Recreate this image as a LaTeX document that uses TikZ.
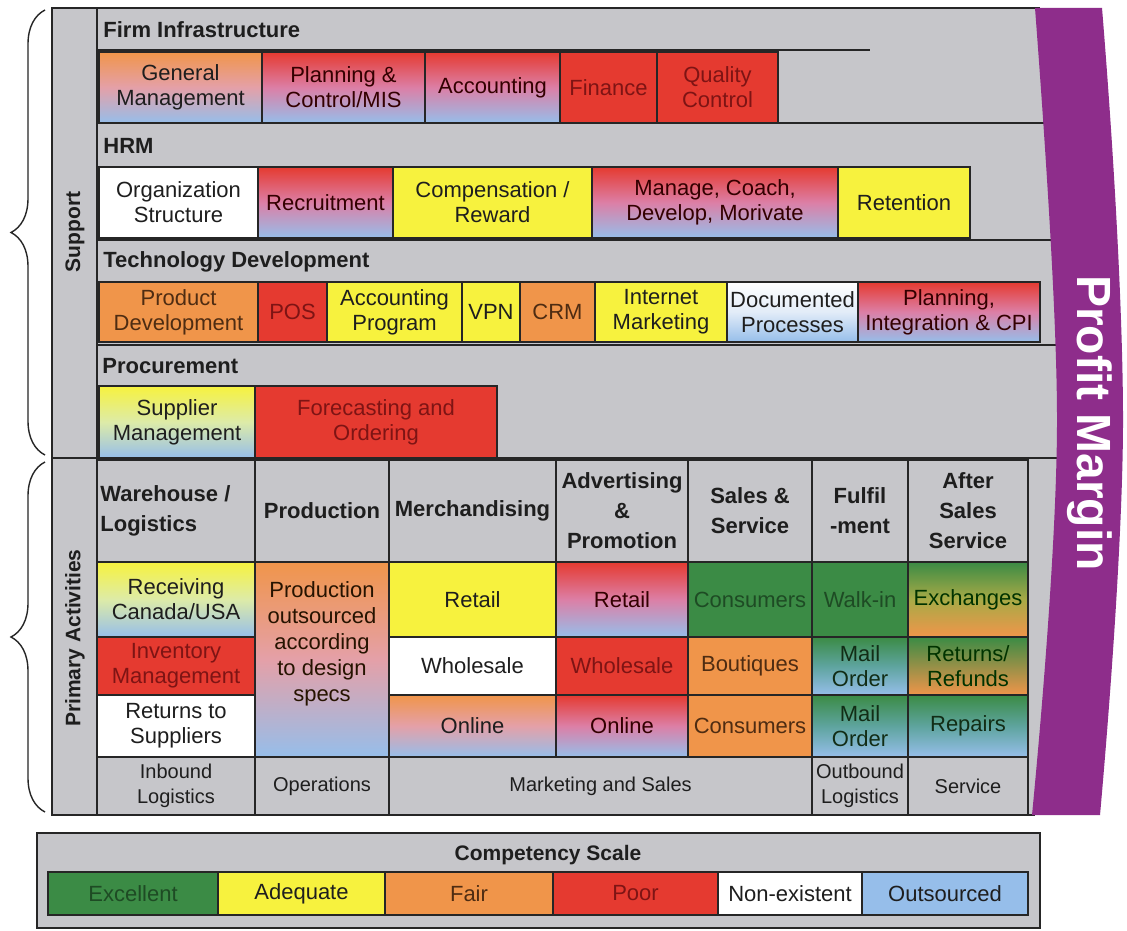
\documentclass[tikz,border=0pt]{standalone}
\usepackage{fontspec}
\setmainfont{Liberation Sans}
\usetikzlibrary{decorations.pathreplacing}
\definecolor{cgreen}{HTML}{3B8B45}
\definecolor{cyellow}{HTML}{F7F23E}
\definecolor{corange}{HTML}{F0954A}
\definecolor{cred}{HTML}{E53A30}
\definecolor{cblue}{HTML}{96BEEA}
\definecolor{cgray}{HTML}{C6C6CA}
\definecolor{cpurple}{HTML}{8E2D8B}
\definecolor{tred}{HTML}{7E1414}
\definecolor{tgreen}{HTML}{1E4B24}
\definecolor{torange}{HTML}{4E2C12}
\definecolor{tdark}{HTML}{1E1E1E}
\definecolor{mRB}{HTML}{DC7FA6}
\definecolor{mOB}{HTML}{E4A0A8}
\definecolor{mYB}{HTML}{DDEBA8}
\definecolor{mWB}{HTML}{E2ECF8}
\definecolor{mGB}{HTML}{5EA49E}
\definecolor{mGO}{HTML}{A8AA46}
\newcommand\myfs[2]{\fontsize{#1}{#2}\selectfont}
\newcommand\mycell[7]{\node[cellbase,#6,minimum width={(#4-#2)*0.5pt},minimum height={(#5-#3)*0.5pt}] (#1) at ({(#2+#4)/2},{(#3+#5)/2}) {#7};}
\begin{document}
\begin{tikzpicture}[x=0.5pt,y=-0.5pt,
  frame/.style={draw=black!85,line width=0.8pt},
  cellbase/.style={draw=black!85,line width=0.8pt,align=center,inner sep=1pt,font=\myfs{11}{12.5},text=tdark},
  cG/.style={fill=cgreen,text=tgreen},
  cY/.style={fill=cyellow},
  cO/.style={fill=corange,text=torange},
  cR/.style={fill=cred,text=tred},
  cW/.style={fill=white},
  cB/.style={fill=cblue},
  cRB/.style={top color=cred,bottom color=cblue,middle color=mRB,text=black!80!red},
  cOB/.style={top color=corange,bottom color=cblue,middle color=mOB},
  cYB/.style={top color=cyellow,bottom color=cblue,middle color=mYB},
  cWB/.style={top color=white,bottom color=cblue,middle color=mWB},
  cGB/.style={top color=cgreen,bottom color=cblue,middle color=mGB,text=tgreen!60!black},
  cGO/.style={top color=cgreen,bottom color=corange,middle color=mGO,text=black!80!green},
  cGYO/.style={top color=cgreen,middle color=cyellow,bottom color=corange,text=black!80!green},
  gcell/.style={fill=cgray},
  phdr/.style={font=\bfseries\myfs{11}{15}},
  bot/.style={font=\myfs{10}{12.5}},
  sechead/.style={anchor=west,inner sep=0pt,font=\bfseries\myfs{11}{13},text=tdark},
  sidelab/.style={rotate=90,inner sep=0pt,font=\bfseries\myfs{10.5}{12},text=tdark},
  bracestyle/.style={decorate,decoration={brace,amplitude=17pt},line width=0.7pt,draw=black!85}
]
\useasboundingbox (0,0) rectangle (1127,930);
\fill[white] (0,0) rectangle (1127,930);
% main gray area
\fill[cgray] (52,8) rectangle (1062,815);
\draw[frame] (1040,8) -- (52,8) -- (52,815) -- (1035,815);
\draw[frame] (97,8) -- (97,815);
\draw[frame] (97,50) -- (870,50);
\draw[frame] (97,123) -- (1050,123);
\draw[frame] (97,240) -- (1055,240);
\draw[frame] (97,345) -- (1058,345);
\draw[frame] (52,458) -- (1058,458);
\draw[frame] (1028,458) -- (1028,815);

% braces and side labels
\coordinate (bs1) at (45,455);
\coordinate (bs2) at (45,10);
\coordinate (bp1) at (45,812);
\coordinate (bp2) at (45,462);
\draw[bracestyle] (bs1) -- (bs2);
\draw[bracestyle] (bp1) -- (bp2);
\node[sidelab] (lsup) at (75,232) {Support};
\node[sidelab] (lprim) at (75,638) {Primary Activities};

% section headings
\node[sechead] (hfi) at (103,30) {Firm Infrastructure};
\node[sechead] (hhrm) at (103,146) {HRM};
\node[sechead] (htd) at (103,262) {Technology Development};
\node[sechead] (hpro) at (102,366) {Procurement};

% firm infrastructure
\mycell{fi1}{99}{52}{262}{123}{cOB}{General\\Management}
\mycell{fi2}{262}{52}{425}{123}{cRB}{Planning \&\\Control/MIS}
\mycell{fi3}{425}{52}{560}{123}{cRB}{Accounting}
\mycell{fi4}{560}{52}{657}{123}{cR}{Finance}
\mycell{fi5}{657}{52}{778}{123}{cR}{Quality\\Control}

% HRM
\mycell{h1}{99}{167}{258}{238}{cW}{Organization\\Structure}
\mycell{h2}{258}{167}{393}{238}{cRB}{Recruitment}
\mycell{h3}{393}{167}{592}{238}{cY}{Compensation /\\Reward}
\mycell{h4}{592}{167}{838}{238}{cRB}{Manage, Coach,\\Develop, Morivate}
\mycell{h5}{838}{167}{970}{238}{cY}{Retention}

% Technology development
\mycell{t1}{99}{282}{258}{342}{cO}{Product\\Development}
\mycell{t2}{258}{282}{327}{342}{cR}{POS}
\mycell{t3}{327}{282}{462}{342}{cY}{Accounting\\Program}
\mycell{t4}{462}{282}{520}{342}{cY}{VPN}
\mycell{t5}{520}{282}{595}{342}{cO}{CRM}
\mycell{t6}{595}{282}{727}{342}{cY}{Internet\\Marketing}
\mycell{t7}{727}{282}{858}{342}{cWB}{Documented\\Processes}
\mycell{t8}{858}{282}{1040}{342}{cRB}{Planning,\\Integration \& CPI}

% Procurement
\mycell{p1}{99}{386}{255}{458}{cYB}{Supplier\\Management}
\mycell{p2}{255}{386}{497}{458}{cR}{Forecasting and\\Ordering}

% Primary headers
\mycell{ph1}{97}{460}{255}{562}{gcell}{}
\node[anchor=west,align=left,inner sep=0pt,phdr,text=tdark] (ph1t) at (100,511) {Warehouse /\\Logistics};
\mycell{ph2}{255}{460}{389}{562}{gcell,phdr}{Production}
\mycell{ph3}{389}{460}{556}{562}{gcell,phdr}{Merchandising}
\mycell{ph4}{556}{460}{688}{562}{gcell,phdr}{Advertising\\\&\\Promotion}
\mycell{ph5}{688}{460}{812}{562}{gcell,phdr}{Sales \&\\Service}
\mycell{ph6}{812}{460}{908}{562}{gcell,phdr}{Fulfil\\-ment}
\mycell{ph7}{908}{460}{1028}{562}{gcell,phdr}{After\\Sales\\Service}

% Warehouse column
\mycell{w1}{97}{562}{255}{637}{cYB}{Receiving\\Canada/USA}
\mycell{w2}{97}{637}{255}{695}{cR}{Inventory\\Management}
\mycell{w3}{97}{695}{255}{757}{cW}{Returns to\\Suppliers}
% Production
\mycell{pr}{255}{562}{389}{757}{cOB}{}
\node[align=center,inner sep=0pt,font=\myfs{11}{13},text=black!85!orange] (prt) at (322,644) {Production\\outsourced\\according\\to design\\specs};
% Merchandising
\mycell{m1}{389}{562}{556}{637}{cY}{Retail}
\mycell{m2}{389}{637}{556}{695}{cW}{Wholesale}
\mycell{m3}{389}{695}{556}{757}{cOB}{Online}
% Advertising
\mycell{a1}{556}{562}{688}{637}{cRB}{Retail}
\mycell{a2}{556}{637}{688}{695}{cR}{Wholesale}
\mycell{a3}{556}{695}{688}{757}{cRB}{Online}
% Sales
\mycell{s1}{688}{562}{812}{637}{cG}{Consumers}
\mycell{s2}{688}{637}{812}{695}{cO}{Boutiques}
\mycell{s3}{688}{695}{812}{757}{cO}{Consumers}
% Fulfilment
\mycell{f1}{812}{562}{908}{637}{cG}{Walk-in}
\mycell{f2}{812}{637}{908}{695}{cGB}{Mail\\Order}
\mycell{f3}{812}{695}{908}{757}{cGB}{Mail\\Order}
% After sales
\mycell{x1}{908}{562}{1028}{637}{cGO}{Exchanges}
\mycell{x2}{908}{637}{1028}{695}{cGYO}{Returns/\\Refunds}
\mycell{x3}{908}{695}{1028}{757}{cGB}{Repairs}

% bottom row
\mycell{b1}{97}{757}{255}{815}{gcell,bot}{Inbound\\Logistics}
\mycell{b2}{255}{757}{389}{815}{gcell,bot}{Operations}
\mycell{b3}{389}{757}{812}{815}{gcell,bot}{Marketing and Sales}
\mycell{b4}{812}{757}{908}{815}{gcell,bot}{Outbound\\Logistics}
\mycell{b5}{908}{757}{1028}{815}{gcell,bot}{Service}

% Profit margin band
\fill[cpurple] (1035,8) -- (1102,8) .. controls (1116,180) and (1123,330) .. (1123,420)
  .. controls (1123,520) and (1112,680) .. (1100,815) -- (1032,815)
  .. controls (1045,680) and (1057,520) .. (1057,420)
  .. controls (1057,330) and (1048,180) .. (1035,8) -- cycle;
\node[rotate=-90,text=white,inner sep=0pt,font=\bfseries\myfs{24}{24}] (pm) at (1090,423) {Profit Margin};

% legend
\mycell{leg}{37}{833}{1040}{928}{gcell}{}
\node[inner sep=0pt,font=\bfseries\myfs{10.5}{12},text=tdark] (legt) at (548,855) {Competency Scale};
\mycell{l1}{48}{872}{218}{915}{cG}{Excellent}
\mycell{l2}{218}{872}{385}{915}{cY}{Adequate}
\mycell{l3}{385}{872}{553}{915}{cO}{Fair}
\mycell{l4}{553}{872}{718}{915}{cR}{Poor}
\mycell{l5}{718}{872}{862}{915}{cW}{Non-existent}
\mycell{l6}{862}{872}{1028}{915}{cB}{Outsourced}
\end{tikzpicture}
\end{document}
